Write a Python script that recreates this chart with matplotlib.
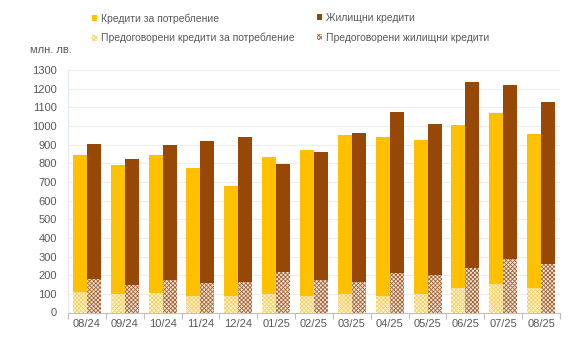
import numpy as np
import matplotlib
matplotlib.use("Agg")
import matplotlib.pyplot as plt

plt.rcParams["font.family"] = ["Liberation Sans", "DejaVu Sans"]
plt.rcParams["hatch.linewidth"] = 0.6

months = ["08/24", "09/24", "10/24", "11/24", "12/24", "01/25", "02/25",
          "03/25", "04/25", "05/25", "06/25", "07/25", "08/25"]
consumer = [843, 792, 845, 777, 680, 833, 870, 950, 939, 925, 1005, 1068, 955]
housing = [904, 823, 899, 920, 939, 797, 859, 961, 1073, 1011, 1236, 1221, 1127]
consumer_reneg = [112, 98, 103, 89, 87, 98, 89, 98, 90, 97, 131, 152, 131]
housing_reneg = [180, 148, 174, 158, 163, 216, 172, 162, 210, 199, 239, 285, 260]

labels = ["Кредити за потребление", "Предоговорени кредити за потребление",
          "Жилищни кредити", "Предоговорени жилищни кредити"]

C_CONS = "#FFC000"
C_HOUS = "#974706"

x = np.arange(len(months))
w = 0.37

fig = plt.figure(figsize=(5.86, 3.37), dpi=100)
ax = fig.add_axes([68 / 586, 1 - 312.5 / 337, (560 - 68) / 586, (312.5 - 70) / 337])

b1 = ax.bar(x - w / 2, consumer, w, color=C_CONS, linewidth=0, zorder=2)
b3 = ax.bar(x + w / 2, housing, w, color=C_HOUS, linewidth=0, zorder=2)
b2 = ax.bar(x - w / 2, consumer_reneg, w, facecolor="#FFF6DA", edgecolor="#F7CE5C",
            hatch="xxxxxxxx", linewidth=0, zorder=3)
b4 = ax.bar(x + w / 2, housing_reneg, w, facecolor="#F3E4D6", edgecolor="#A4663A",
            hatch="xxxxxxxx", linewidth=0, zorder=3)

ax.set_xlim(-0.5, len(months) - 0.5)
ax.set_ylim(0, 1300)
ax.set_yticks(np.arange(0, 1301, 100))
ax.set_xticks(x)
ax.set_xticklabels(months)
ax.set_xticks(np.arange(-0.5, len(months), 1), minor=True)
ax.tick_params(axis="x", which="major", length=0, pad=5, labelsize=8, labelcolor="#595959")
ax.tick_params(axis="x", which="minor", length=4, color="#BFBFBF", width=0.8)
ax.tick_params(axis="y", length=0, pad=8, labelsize=8, labelcolor="#595959")

ax.grid(axis="y", color="#EDEDED", linewidth=0.8, zorder=0)
ax.set_axisbelow(True)
for s in ("top", "right"):
    ax.spines[s].set_visible(False)
ax.spines["left"].set_color("#E4EAF2")
ax.spines["left"].set_linewidth(0.8)
ax.spines["bottom"].set_color("#BFBFBF")
ax.spines["bottom"].set_linewidth(0.8)

# two legend columns placed on their own so column 2 starts where it should
legend_kw = dict(loc="upper left", frameon=False, fontsize=7.5, labelcolor="#595959",
                 handlelength=0.5, handleheight=0.5, handletextpad=0.3,
                 labelspacing=0.9, borderaxespad=0)
fig.legend([b1, b2], labels[:2], bbox_to_anchor=(88 / 586, 1 - 9 / 337), **legend_kw)
fig.legend([b3, b4], labels[2:], bbox_to_anchor=(313 / 586, 1 - 9 / 337), **legend_kw)

fig.text(30 / 586, 1 - 50 / 337, "млн. лв.", fontsize=8, color="#595959", va="center")

fig.savefig("out.png", dpi=100)
